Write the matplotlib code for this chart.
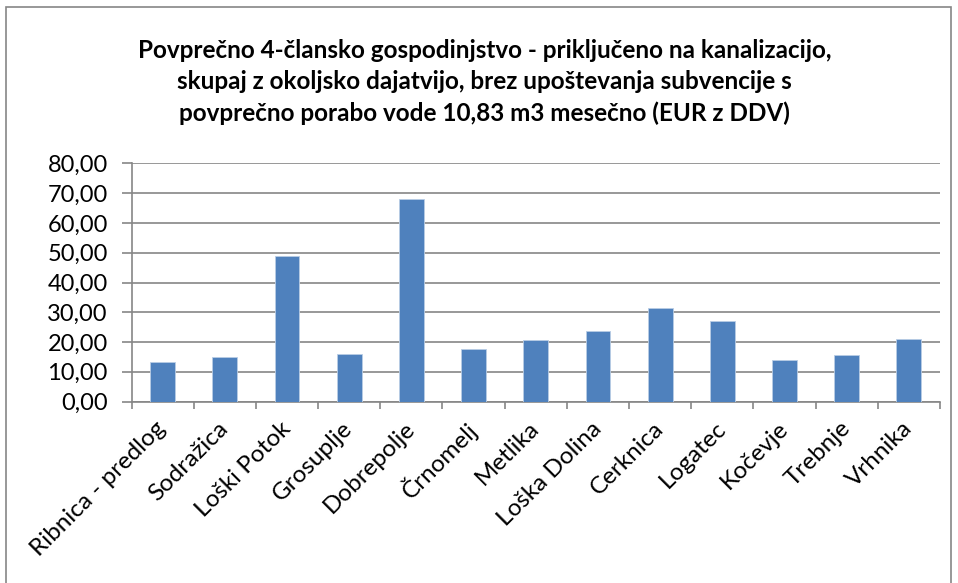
import numpy as np
import matplotlib.pyplot as plt
from matplotlib.patches import Rectangle

plt.rcParams['font.family'] = ['Lato', 'DejaVu Sans']

obcine = ["Ribnica - predlog", "Sodražica", "Loški Potok", "Grosuplje", "Dobrepolje",
          "Črnomelj", "Metlika", "Loška Dolina", "Cerknica", "Logatec", "Kočevje",
          "Trebnje", "Vrhnika"]
cene = [13.4, 14.8, 49.0, 16.1, 68.2, 17.7, 20.8, 23.8, 31.4, 27.2, 14.0, 15.5, 20.9]

naslov = ("Povprečno 4-člansko gospodinjstvo - priključeno na kanalizacijo,\n"
          "skupaj z okoljsko dajatvijo, brez upoštevanja subvencije s\n"
          "povprečno porabo vode 10,83 m3 mesečno (EUR z DDV)")

fig = plt.figure(figsize=(9.58, 5.83), dpi=100)
ax = fig.add_axes([131.5 / 958, 1 - 401.5 / 583, 808.5 / 958, 238 / 583])

x = np.arange(len(obcine))
ax.bar(x, cene, width=0.4, color="#4F81BD", edgecolor="#B9CDE5", linewidth=0.6, zorder=3)

ax.set_xlim(-0.5, len(obcine) - 0.5)
ax.set_ylim(0, 80)
yt = np.arange(0, 81, 10)
ax.set_yticks(yt)
ax.set_yticklabels([("%.2f" % v).replace(".", ",") for v in yt], fontsize=17)
ax.yaxis.set_ticks_position('left')
ax.grid(axis='y', color="#868686", linewidth=1.2, zorder=0)

ax.set_xticks(x)
ax.set_xticklabels(obcine, rotation=45, ha='right', va='center',
                   rotation_mode='anchor', fontsize=17.5)
ax.set_xticks(np.arange(-0.5, len(obcine), 1), minor=True)
ax.tick_params(axis='x', which='major', length=0, pad=17)
ax.tick_params(axis='x', which='minor', length=5, color="#868686", width=1.2)
ax.tick_params(axis='y', length=7, color="#868686", width=1.2, pad=10)

for s in ['top', 'right']:
    ax.spines[s].set_visible(False)
for s in ['left', 'bottom']:
    ax.spines[s].set_color("#868686")
    ax.spines[s].set_linewidth(1.2)

fig.text(0.506, 1 - 82 / 583, naslov, ha='center', va='center', fontsize=17.5,
         fontweight='bold', linespacing=1.45)

fig.patches.append(Rectangle((6 / 958, -0.05), 945 / 958, 1 - 7 / 583 + 0.05,
                             transform=fig.transFigure, fill=False,
                             edgecolor="#868686", linewidth=1.2))

fig.savefig("out.png", dpi=100)
